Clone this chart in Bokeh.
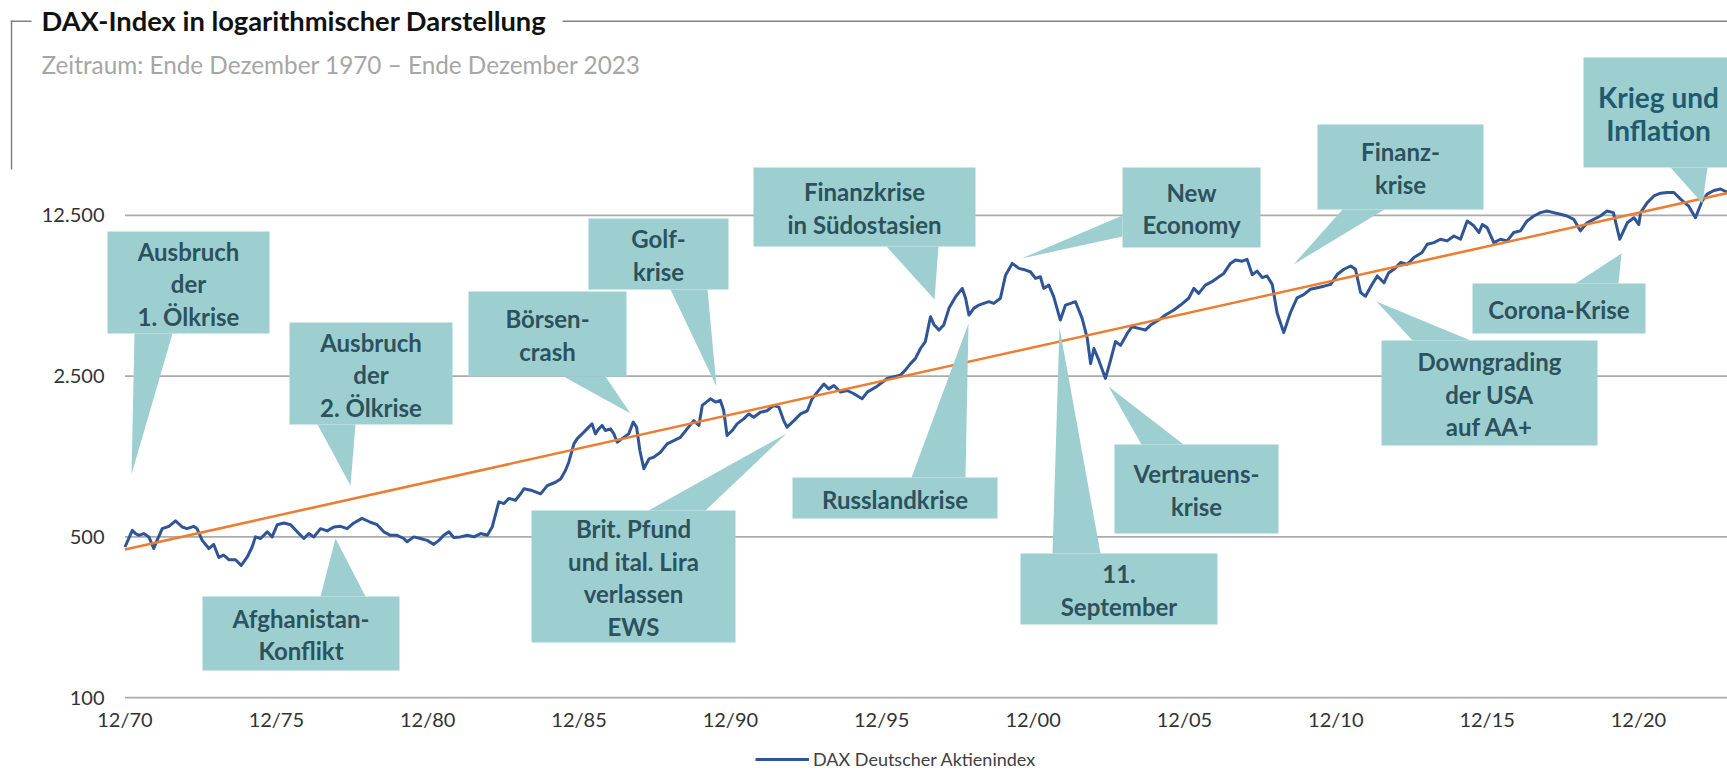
from bokeh.plotting import figure
from bokeh.models import ColumnDataSource, FixedTicker, Label, BoxAnnotation, Legend, LegendItem
from bokeh.core.properties import value
from bokeh.embed import file_html
from bokeh.resources import INLINE

# ---------------- data ----------------
years_1970s = [1971.00, 1971.24, 1971.35, 1971.46, 1971.62, 1971.79, 1971.95, 1972.06, 1972.23, 1972.45, 1972.67, 1972.89,
               1973.05, 1973.27, 1973.38, 1973.55, 1973.77, 1973.93, 1974.10, 1974.26, 1974.43, 1974.65, 1974.84,
               1975.04, 1975.20, 1975.31, 1975.48, 1975.70, 1975.86, 1976.03, 1976.25, 1976.47, 1976.69, 1976.91,
               1977.07, 1977.24, 1977.46, 1977.68, 1977.90, 1978.12, 1978.34, 1978.56, 1978.83,
               1979.11, 1979.33, 1979.55, 1979.77, 1979.99]
dax_1970s = [452, 534, 517, 508, 517, 500, 445, 483, 543, 556, 587, 552,
             543, 556, 543, 483, 445, 464, 407, 417, 398, 398, 376,
             409, 452, 500, 492, 526, 500, 565, 575, 565, 526, 492,
             517, 500, 543, 531, 552, 556, 543, 575, 602,
             579, 565, 526, 508, 508]

years_1980s = [1980.21, 1980.32, 1980.54, 1980.76, 1980.98, 1981.20, 1981.37, 1981.53, 1981.70, 1981.86,
               1982.08, 1982.31, 1982.53, 1982.75, 1982.97, 1983.13, 1983.35, 1983.52, 1983.68, 1983.90,
               1984.07, 1984.18, 1984.45, 1984.73, 1984.95, 1985.22, 1985.39, 1985.55, 1985.66, 1985.83, 1985.94,
               1986.16, 1986.32, 1986.43, 1986.54, 1986.65, 1986.76, 1986.87,
               1987.04, 1987.15, 1987.26, 1987.42, 1987.64, 1987.79, 1987.90,
               1988.01, 1988.14, 1988.31, 1988.47, 1988.69, 1988.91, 1989.13, 1989.35, 1989.57, 1989.79, 1989.96]
dax_1980s = [492, 476, 500, 492, 483, 464, 483, 508, 526, 497,
             500, 508, 500, 517, 508, 552, 710, 698, 735, 722,
             770, 809, 795, 769, 835, 864, 893, 972, 1056, 1269, 1337,
             1427, 1500, 1550, 1402, 1474, 1526, 1450,
             1474, 1402, 1290, 1337, 1402, 1577, 1500,
             1187, 989, 1091, 1111, 1167, 1269, 1311, 1355, 1474, 1602, 1526]

years_1990s = [1990.07, 1990.34, 1990.51, 1990.67, 1990.78, 1990.89, 1991.06, 1991.22, 1991.44, 1991.61, 1991.77, 1991.99,
               1992.21, 1992.43, 1992.60, 1992.76, 1992.87, 1993.10, 1993.32, 1993.54, 1993.70, 1993.87,
               1994.09, 1994.25, 1994.42, 1994.64, 1994.86, 1995.08, 1995.35, 1995.52, 1995.85,
               1996.18, 1996.40, 1996.62, 1996.78, 1996.95, 1997.11, 1997.28, 1997.44, 1997.61, 1997.72, 1997.89,
               1998.05, 1998.22, 1998.44, 1998.66, 1998.77, 1998.88, 1999.04, 1999.21, 1999.37, 1999.54, 1999.70, 1999.92]
dax_1990s = [1865, 1992, 1927, 1960, 1767, 1379, 1450, 1550, 1629, 1712, 1657, 1741,
             1767, 1865, 1834, 1602, 1500, 1602, 1712, 1767, 1992, 2130,
             2310, 2200, 2275, 2130, 2164, 2095, 1992, 2130, 2260,
             2442, 2483, 2525, 2653, 2832, 2978, 3296, 3532, 4530, 4195, 3963,
             4167, 4925, 5535, 6013, 5450, 4605, 4925, 5090, 5177, 5265, 5177, 5450]

years_2000s = [2000.09, 2000.31, 2000.53, 2000.75, 2000.91, 2001.08, 2001.24, 2001.35, 2001.52, 2001.68, 2001.90,
               2002.07, 2002.24, 2002.40, 2002.62, 2002.79, 2002.90, 2003.01, 2003.17, 2003.39, 2003.56, 2003.72, 2003.89,
               2004.11, 2004.27, 2004.49, 2004.71, 2004.88, 2005.15, 2005.37, 2005.65, 2005.87,
               2006.14, 2006.31, 2006.47, 2006.69, 2006.91, 2007.14, 2007.30, 2007.52, 2007.69, 2007.91,
               2008.07, 2008.24, 2008.40, 2008.57, 2008.73, 2008.90, 2009.06, 2009.28, 2009.50, 2009.72, 2009.94]
dax_2000s = [6868, 7725, 7347, 7227, 7107, 6648, 6760, 6013, 6215, 5535, 4380,
             5090, 5177, 5265, 4455, 3645, 2832, 3296, 2933, 2442, 2933, 3532, 3400,
             3832, 4100, 4030, 3963, 4167, 4380, 4605, 4843, 5090,
             5450, 6013, 5724, 6215, 6432, 6760, 6985, 7725, 7988, 7900,
             8040, 6900, 7150, 6700, 6813, 6263, 4713, 3863, 4713, 5475, 5650]

years_2010s = [2010.16, 2010.39, 2010.61, 2010.83, 2011.05, 2011.27, 2011.49, 2011.65, 2011.82, 2011.98,
               2012.20, 2012.37, 2012.59, 2012.75, 2012.92, 2013.14, 2013.36, 2013.58, 2013.85,
               2014.02, 2014.24, 2014.46, 2014.68, 2014.90, 2015.12, 2015.34, 2015.56, 2015.73, 2015.84,
               2016.00, 2016.22, 2016.44, 2016.66, 2016.88, 2017.10, 2017.32, 2017.54, 2017.76, 2017.98,
               2018.20, 2018.42, 2018.64, 2018.86, 2019.08, 2019.30, 2019.52, 2019.74, 2019.96]
dax_2010s = [5963, 6055, 6150, 6263, 6925, 7283, 7525, 7283, 5763, 5560,
             6263, 6813, 6363, 7038, 7283, 7788, 7663, 8188, 8613,
             9350, 9513, 9838, 9675, 10163, 9838, 11813, 11250, 10525, 11400,
             11050, 9513, 9838, 9675, 10525, 10700, 11813, 12413, 12838, 13050,
             12838, 12625, 12413, 12010, 10700, 11600, 12010, 12413, 13050]

years_2020s = [2020.17, 2020.38, 2020.63, 2020.85, 2021.01, 2021.07, 2021.29, 2021.51, 2021.73, 2021.95,
               2022.17, 2022.39, 2022.66, 2022.88, 2023.10, 2023.27, 2023.49, 2023.71, 2023.94]
dax_2020s = [12838, 9838, 11600, 12200, 11400, 12838, 14190, 15170, 15590, 15700,
             15700, 14700, 13700, 12200, 14390, 15460, 16020, 16270, 15700]

trend_years = [1971.0, 2024.0]
trend_values = [441, 15700]

y_ticks = [100, 500, 2500, 12500]
y_tick_labels = ["100", "500", "2.500", "12.500"]
x_ticks = [1971, 1976, 1981, 1986, 1991, 1996, 2001, 2006, 2011, 2016, 2021]
x_tick_labels = ["12/70", "12/75", "12/80", "12/85", "12/90", "12/95", "12/00", "12/05", "12/10", "12/15", "12/20"]

series_label = "DAX Deutscher Aktienindex"
title_text = "DAX-Index in logarithmischer Darstellung"
subtitle_text = "Zeitraum: Ende Dezember 1970 \u2013 Ende Dezember 2023"

# callouts: text lines, box (left, top, right, bottom) and pointer triangle, in page pixels of the layout
callouts = [
    (["Ausbruch", "der", "1. Ölkrise"], (107, 231, 269, 333), [(134, 333), (131, 474), (172, 333)]),
    (["Ausbruch", "der", "2. Ölkrise"], (289, 322, 452, 424), [(317, 424), (350, 485), (355, 424)]),
    (["Afghanistan-", "Konflikt"], (202, 596, 399, 670), [(320, 596), (335, 538), (365, 596)]),
    (["Börsen-", "crash"], (468, 291, 626, 376), [(563, 376), (630, 413), (605, 376)]),
    (["Golf-", "krise"], (588, 218, 728, 289), [(670, 289), (716, 386), (707, 289)]),
    (["Brit. Pfund", "und ital. Lira", "verlassen", "EWS"], (531, 510, 735, 642), [(648, 510), (786, 433), (705, 510)]),
    (["Finanzkrise", "in Südostasien"], (753, 167, 975, 246), [(886, 246), (934, 299), (938, 246)]),
    (["Russlandkrise"], (792, 477, 997, 518), [(911, 477), (968, 323), (965, 477)]),
    (["New", "Economy"], (1122, 167, 1260, 247), [(1122, 215), (1021, 258), (1122, 236)]),
    (["11.", "September"], (1020, 553, 1217, 624), [(1052, 553), (1059, 327), (1100, 553)]),
    (["Vertrauens-", "krise"], (1114, 444, 1278, 533), [(1141, 444), (1108, 386), (1183, 444)]),
    (["Finanz-", "krise"], (1317, 124, 1483, 209), [(1342, 209), (1293, 264), (1384, 209)]),
    (["Corona-Krise"], (1472, 283, 1645, 333), [(1575, 283), (1621, 253), (1618, 283)]),
    (["Downgrading", "der USA", "auf AA+"], (1381, 340, 1597, 445), [(1412, 340), (1376, 301), (1470, 340)]),
    (["Krieg und", "Inflation"], (1583, 57, 1745, 167), [(1670, 167), (1702, 203), (1707, 167)]),
]

# ---------------- layout mapping (page pixels -> data) ----------------
REF_X0, REF_PPY = 124.5, 30.27       # x pixel of 12/70, pixels per year
REF_Y100, REF_PPD = 697.2, 230.05    # y pixel of 100, pixels per decade


def rx(px):
    return 1971.0 + (px - REF_X0) / REF_PPY


def ry(py):
    return 100.0 * 10 ** ((REF_Y100 - py) / REF_PPD)


W, H = 1727, 771

FONT = "Lato"
BOX = "#9dcfd1"
TXT = "#2c525d"
GRID = "#ababab"

p = figure(width=W, height=H,
           x_range=(rx(0), rx(W)), y_range=(ry(H), ry(0)),
           y_axis_type="log", output_backend="svg", toolbar_location=None,
           min_border=0, min_border_left=0, min_border_right=0, min_border_top=0, min_border_bottom=0)
p.outline_line_color = None
p.grid.visible = False
p.background_fill_color = "white"
p.border_fill_color = "white"

# axes: fixed inside the full-canvas frame
p.xaxis.ticker = FixedTicker(ticks=x_ticks)
p.xaxis.major_label_overrides = {t: l for t, l in zip(x_ticks, x_tick_labels)}
p.yaxis.ticker = FixedTicker(ticks=y_ticks)
p.yaxis.major_label_overrides = {t: l for t, l in zip(y_ticks, y_tick_labels)}
for ax in (p.xaxis[0], p.yaxis[0]):
    ax.axis_line_color = None
    ax.major_tick_line_color = None
    ax.minor_tick_line_color = None
    ax.major_tick_out = 0
    ax.major_tick_in = 0
    ax.minor_tick_out = 0
    ax.minor_tick_in = 0
    ax.major_label_text_font = FONT
    ax.major_label_text_font_size = "20px"
    ax.major_label_text_color = "#333333"
p.xaxis.fixed_location = ry(699)
p.yaxis.fixed_location = rx(106)
p.xaxis.major_label_standoff = 7
p.yaxis.major_label_standoff = 2

# gridlines (start at 12/70 like the reference)
p.segment(x0=[x_ticks[0]] * len(y_ticks), x1=[2030] * len(y_ticks), y0=y_ticks, y1=y_ticks,
          line_color=GRID, line_width=1.8)

dax_years = years_1970s + years_1980s + years_1990s + years_2000s + years_2010s + years_2020s
dax_vals = dax_1970s + dax_1980s + dax_1990s + dax_2000s + dax_2010s + dax_2020s
dax_src = ColumnDataSource(dict(x=dax_years, y=dax_vals))
r_dax = p.line("x", "y", source=dax_src, line_color="#2f5597", line_width=3, line_join="round")
p.line(trend_years, trend_values, line_color="#ed7d31", line_width=2.6)

# callouts
q = dict(left=[], right=[], top=[], bottom=[])
tri_x, tri_y = [], []
t_small = dict(x=[], y=[], text=[])
t_big = dict(x=[], y=[], text=[])
for lines, (l, t, r, b), tri in callouts:
    q["left"].append(rx(l)); q["right"].append(rx(r)); q["top"].append(ry(t)); q["bottom"].append(ry(b))
    tri_x.append([rx(a) for a, _ in tri]); tri_y.append([ry(c) for _, c in tri])
    big = lines[0].startswith("Krieg")
    tgt = t_big if big else t_small
    ls = 33 if big else 32.5
    cx = 1658 if big else (l + r) / 2
    cy = (t + b) / 2 + 1
    n = len(lines)
    for i, s in enumerate(lines):
        tgt["x"].append(rx(cx))
        tgt["y"].append(ry(cy + (i - (n - 1) / 2) * ls))
        tgt["text"].append(s)

p.patches(tri_x, tri_y, fill_color=BOX, line_color=None)
p.quad(source=ColumnDataSource(q), left="left", right="right", top="top", bottom="bottom",
       fill_color=BOX, line_color=None)
p.text("x", "y", "text", source=ColumnDataSource(t_small), text_font=value(FONT), text_font_style="bold",
       text_font_size="24px", text_color=TXT, text_align="center", text_baseline="middle")
p.text("x", "y", "text", source=ColumnDataSource(t_big), text_font=value(FONT), text_font_style="bold",
       text_font_size="28px", text_color="#1f5a6e", text_align="center", text_baseline="middle")

# header: title, subtitle, frame lines
p.add_layout(Label(x=rx(41), y=ry(19.5), text=title_text, text_font=FONT, text_font_style="bold",
                   text_font_size="27.3px", text_color="#111111", text_align="left", text_baseline="middle"))
p.add_layout(Label(x=rx(41), y=ry(64), text=subtitle_text, text_font=FONT,
                   text_font_size="24.3px", text_color="#a6a6a6", text_align="left", text_baseline="middle"))
for (l, t, r, b) in [(10.3, 20, 11.8, 169), (10.3, 20, 31, 21.5), (562, 20, 1730, 21.5)]:
    p.add_layout(BoxAnnotation(left=rx(l), right=rx(r), top=ry(t), bottom=ry(b),
                               fill_color="#808080", fill_alpha=1.0, line_alpha=0))

# legend at the bottom
legend = Legend(items=[LegendItem(label=series_label, renderers=[r_dax])],
                location=(755, 1), orientation="horizontal",
                padding=0, margin=0, border_line_color=None, background_fill_alpha=0,
                glyph_width=54, glyph_height=18, label_standoff=4, label_height=18,
                label_text_font=FONT, label_text_font_size="18px", label_text_color="#404040")
p.add_layout(legend)

open("out.html", "w").write(file_html(p, INLINE))
